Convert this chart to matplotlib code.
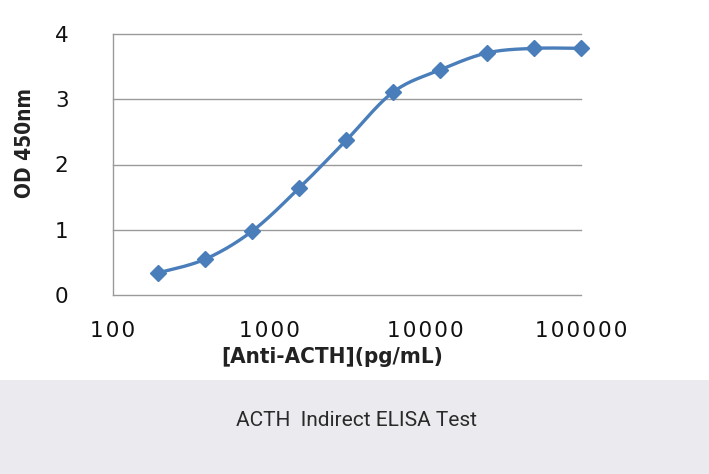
import numpy as np
import matplotlib
matplotlib.use('Agg')
import matplotlib.pyplot as plt
from matplotlib.patches import Rectangle

# anti-ACTH concentration (pg/mL) and OD at 450 nm
conc = [195.3, 390.6, 781.25, 1562.5, 3125, 6250, 12500, 25000, 50000, 100000]
od = [0.34, 0.55, 0.98, 1.64, 2.37, 3.11, 3.45, 3.71, 3.78, 3.78]

x_ticks = [100, 1000, 10000, 100000]
y_ticks = [0, 1, 2, 3, 4]

blue = '#4a7ebb'
grid = '#9a9a9a'


def spaced(s):
    # the original tick labels have loose letter spacing
    return '\u200a'.join(s)


fig = plt.figure(figsize=(7.09, 4.74), dpi=100)
fig.patch.set_facecolor('white')

# grey caption band at the bottom
fig.patches.append(Rectangle((0, 0), 1, 94 / 474, transform=fig.transFigure,
                             facecolor='#ebebef', edgecolor='none', zorder=0))

ax = fig.add_axes([113 / 709, 1 - 295 / 474, 468 / 709, 261 / 474])
ax.set_xscale('log')
ax.set_xlim(100, 100000)
ax.set_ylim(0, 4)

# smoothed line (Catmull-Rom in log-x space, like Excel's smooth line)
lx = np.log10(conc)
yy = np.array(od)
px = np.concatenate([[lx[0]], lx, [lx[-1]]])
py = np.concatenate([[yy[0]], yy, [yy[-1]]])
sx, sy = [], []
t = np.linspace(0, 1, 30)
for i in range(1, len(px) - 2):
    p0, p1, p2, p3 = (np.array([px[j], py[j]]) for j in range(i - 1, i + 3))
    c1 = p1 + (p2 - p0) / 6
    c2 = p2 - (p3 - p1) / 6
    pts = ((1 - t) ** 3)[:, None] * p1 + (3 * (1 - t) ** 2 * t)[:, None] * c1 \
        + (3 * (1 - t) * t ** 2)[:, None] * c2 + (t ** 3)[:, None] * p2
    sx.extend(pts[:, 0])
    sy.extend(pts[:, 1])
ax.plot(10 ** np.array(sx), sy, color=blue, lw=2.4, zorder=3, clip_on=False)
ax.plot(conc, od, linestyle='none', marker='D', ms=8, color=blue, zorder=4,
        clip_on=False)

for v in y_ticks:
    ax.axhline(v, color=grid, lw=1, zorder=1, clip_on=False)

for s in ['top', 'right', 'bottom']:
    ax.spines[s].set_visible(False)
ax.spines['left'].set_color(grid)
ax.spines['left'].set_linewidth(1)

ax.set_xticks(x_ticks)
ax.set_xticklabels([spaced(str(v)) for v in x_ticks])
ax.xaxis.set_minor_locator(matplotlib.ticker.NullLocator())
ax.set_yticks(y_ticks)
ax.set_yticklabels([str(v) for v in y_ticks])
ax.tick_params(length=0, labelsize=15.5, colors='#111111')
ax.tick_params(axis='y', pad=32)
ax.tick_params(axis='x', pad=19)

fig.text(25 / 709, 1 - 143 / 474, 'OD 450nm', rotation=90, ha='center',
         va='center', fontsize=15, fontweight='bold', family='DejaVu Sans',
         fontstretch='condensed', color='#222222')
fig.text(332 / 709, 1 - 357 / 474, '[Anti-ACTH](pg/mL)', ha='center',
         va='center', fontsize=16, fontweight='bold', family='DejaVu Sans',
         fontstretch='condensed', color='#222222')
fig.text(356 / 709, 1 - 421 / 474, 'ACTH  Indirect ELISA Test', ha='center',
         va='center', fontsize=15, family=['Roboto', 'DejaVu Sans'],
         fontstretch='condensed', color='#2a2a2a')

fig.savefig('out.png', dpi=100)
